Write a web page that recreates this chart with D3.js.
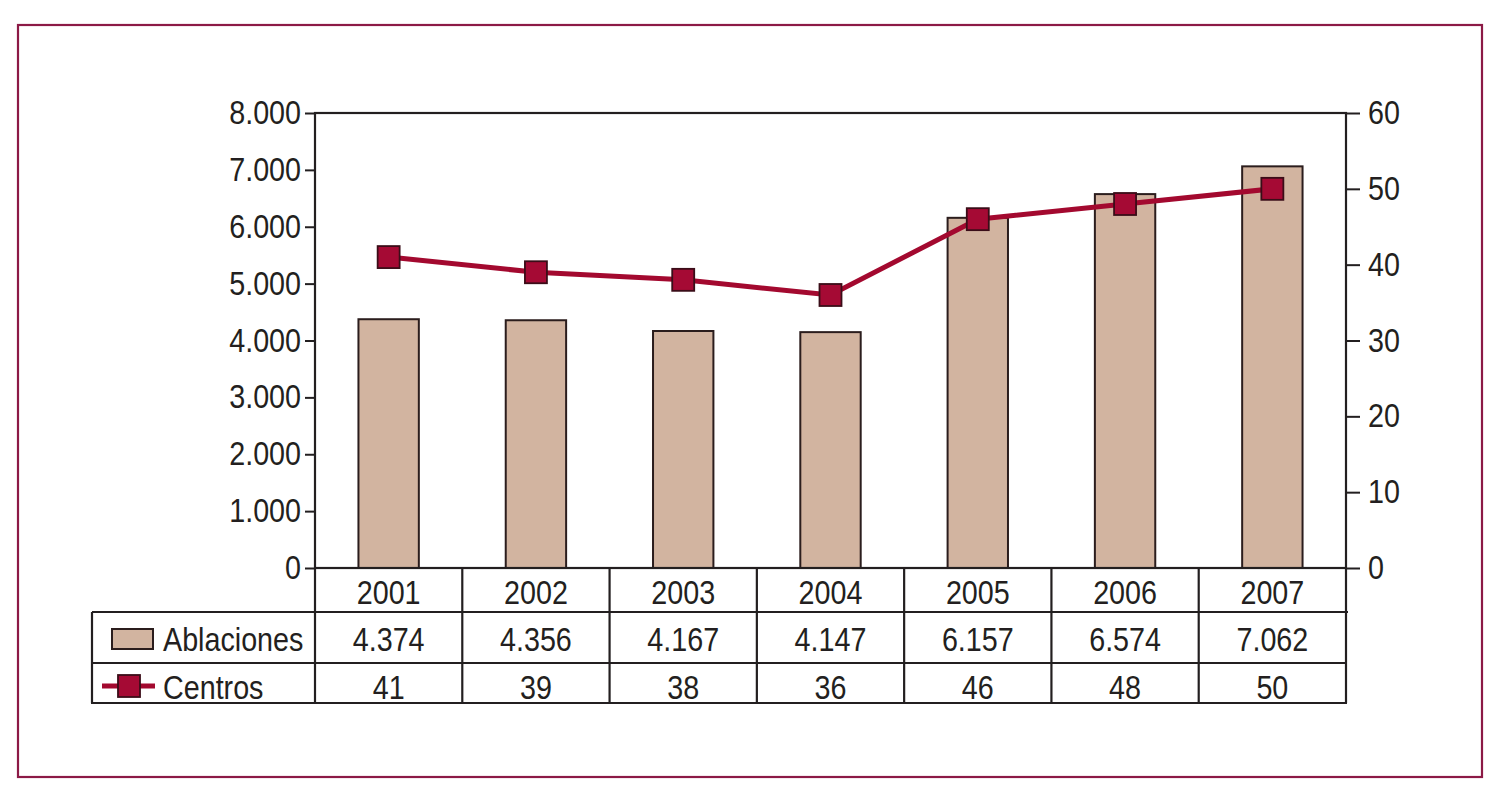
<!DOCTYPE html>
<html><head><meta charset="utf-8">
<script src="https://cdn.jsdelivr.net/npm/d3@7/dist/d3.min.js"></script>
<style>
html,body{margin:0;padding:0;background:#fff;}
svg text{font-family:"Liberation Sans",Arial,sans-serif;fill:#231f20;}
</style></head>
<body>
<svg id="c" width="1504" height="812"></svg>
<script>
const years = ["2001","2002","2003","2004","2005","2006","2007"];
const ablaciones = [4374, 4356, 4167, 4147, 6157, 6574, 7062];
const centros = [41, 39, 38, 36, 46, 48, 50];
const ablLabels = ["4.374","4.356","4.167","4.147","6.157","6.574","7.062"];
const leftTicks = [0,1000,2000,3000,4000,5000,6000,7000,8000];
const rightTicks = [0,10,20,30,40,50,60];
const seriesNames = ["Ablaciones","Centros"];

const svg = d3.select("#c");
const L = 315, R = 1346, T = 113, B = 568;
const rowY = [568, 612, 663, 703];
const tableLeft = 92;
const fs = 33;
const SX = 0.87;
const ink = "#231f20";
const barFill = "#d2b4a0";
const lineCol = "#a3092f";
const markFill = "#a50a34";

function squeeze(sel){
  sel.each(function(){
    const t = d3.select(this);
    const x = +t.attr("x") || 0;
    t.attr("x", x/SX).attr("transform", `scale(${SX},1)`);
  });
}
function txt(g, x, y, s, anchor){
  return g.append("text").attr("transform",`translate(${x},${y}) scale(${SX},1)`)
    .attr("text-anchor",anchor||"start").attr("font-size",fs).text(s);
}

// frame
svg.append("rect").attr("x",18).attr("y",25).attr("width",1464).attr("height",752)
  .attr("fill","none").attr("stroke","#8c1a46").attr("stroke-width",2.2);

const cell = d3.scaleBand().domain(years).range([L,R]).padding(0);
const x = d3.scaleBand().domain(years).range([L,R]).paddingInner(0.59).paddingOuter(0.295);
const yL = d3.scaleLinear().domain([0,8000]).range([B,T]);
const yR = d3.scaleLinear().domain([0,60]).range([B,T]);

// bars
svg.append("g").selectAll("rect").data(ablaciones).join("rect")
  .attr("x",(d,i)=>x(years[i])).attr("y",d=>yL(d))
  .attr("width",x.bandwidth()).attr("height",d=>B-yL(d))
  .attr("fill",barFill).attr("stroke","#2b1d1d").attr("stroke-width",2);

// axes
const fmt = d3.formatLocale({decimal:",",thousands:".",grouping:[3],currency:["",""]}).format(",d");
const gl = svg.append("g").attr("transform",`translate(${L},0)`)
  .call(d3.axisLeft(yL).tickValues(leftTicks).tickFormat(fmt).tickSize(10).tickPadding(4));
const gr = svg.append("g").attr("transform",`translate(${R},0)`)
  .call(d3.axisRight(yR).tickValues(rightTicks).tickSize(14).tickPadding(8));
[gl,gr].forEach(g=>{
  g.select(".domain").remove();
  g.selectAll("line").attr("stroke",ink).attr("stroke-width",2);
  g.selectAll("text").attr("font-size",fs).style("font-family",'"Liberation Sans",Arial,sans-serif').attr("fill",ink);
  squeeze(g.selectAll("text"));
});
// plot box
svg.append("rect").attr("x",L).attr("y",T).attr("width",R-L).attr("height",B-T)
  .attr("fill","none").attr("stroke",ink).attr("stroke-width",2.2);

// line
const line = d3.line().x((d,i)=>x(years[i])+x.bandwidth()/2).y(d=>yR(d));
svg.append("path").datum(centros).attr("d",line).attr("fill","none")
  .attr("stroke",lineCol).attr("stroke-width",5);
const ms = 22;
svg.append("g").selectAll("rect").data(centros).join("rect")
  .attr("x",(d,i)=>x(years[i])+x.bandwidth()/2-ms/2).attr("y",d=>yR(d)-ms/2)
  .attr("width",ms).attr("height",ms).attr("fill",markFill).attr("stroke","#3a0d18").attr("stroke-width",1.8);

// table
const tg = svg.append("g");
const st = s=>s.attr("stroke",ink).attr("stroke-width",2.2);
st(tg.append("line").attr("x1",tableLeft).attr("x2",R+2).attr("y1",rowY[1]).attr("y2",rowY[1]));
st(tg.append("line").attr("x1",tableLeft).attr("x2",R).attr("y1",rowY[2]).attr("y2",rowY[2]));
st(tg.append("line").attr("x1",tableLeft-1).attr("x2",R+1).attr("y1",rowY[3]).attr("y2",rowY[3]));
st(tg.append("line").attr("x1",tableLeft).attr("x2",tableLeft).attr("y1",rowY[1]).attr("y2",rowY[3]));
const bounds = years.map(d=>cell(d)).concat([R]);
tg.selectAll("line.v").data(bounds).join("line").attr("class","v")
  .attr("x1",d=>d).attr("x2",d=>d).attr("y1",rowY[0]).attr("y2",rowY[3])
  .attr("stroke",ink).attr("stroke-width",2.2);

const cx = d=>cell(d)+cell.bandwidth()/2;
years.forEach((d,i)=>{
  txt(tg, cx(d), 604, d, "middle");
  txt(tg, cx(d), 651, ablLabels[i], "middle");
  txt(tg, cx(d), 699, String(centros[i]), "middle");
});

// legend in table
tg.append("rect").attr("x",112).attr("y",629).attr("width",41).attr("height",20)
  .attr("fill",barFill).attr("stroke","#2b1d1d").attr("stroke-width",2);
txt(tg, 163, 651, seriesNames[0]);
tg.append("line").attr("x1",102).attr("x2",155).attr("y1",686).attr("y2",686)
  .attr("stroke",lineCol).attr("stroke-width",5);
tg.append("rect").attr("x",118).attr("y",675).attr("width",22).attr("height",22)
  .attr("fill",markFill).attr("stroke","#3a0d18").attr("stroke-width",1.8);
txt(tg, 163, 699, seriesNames[1]);
</script>
</body></html>
